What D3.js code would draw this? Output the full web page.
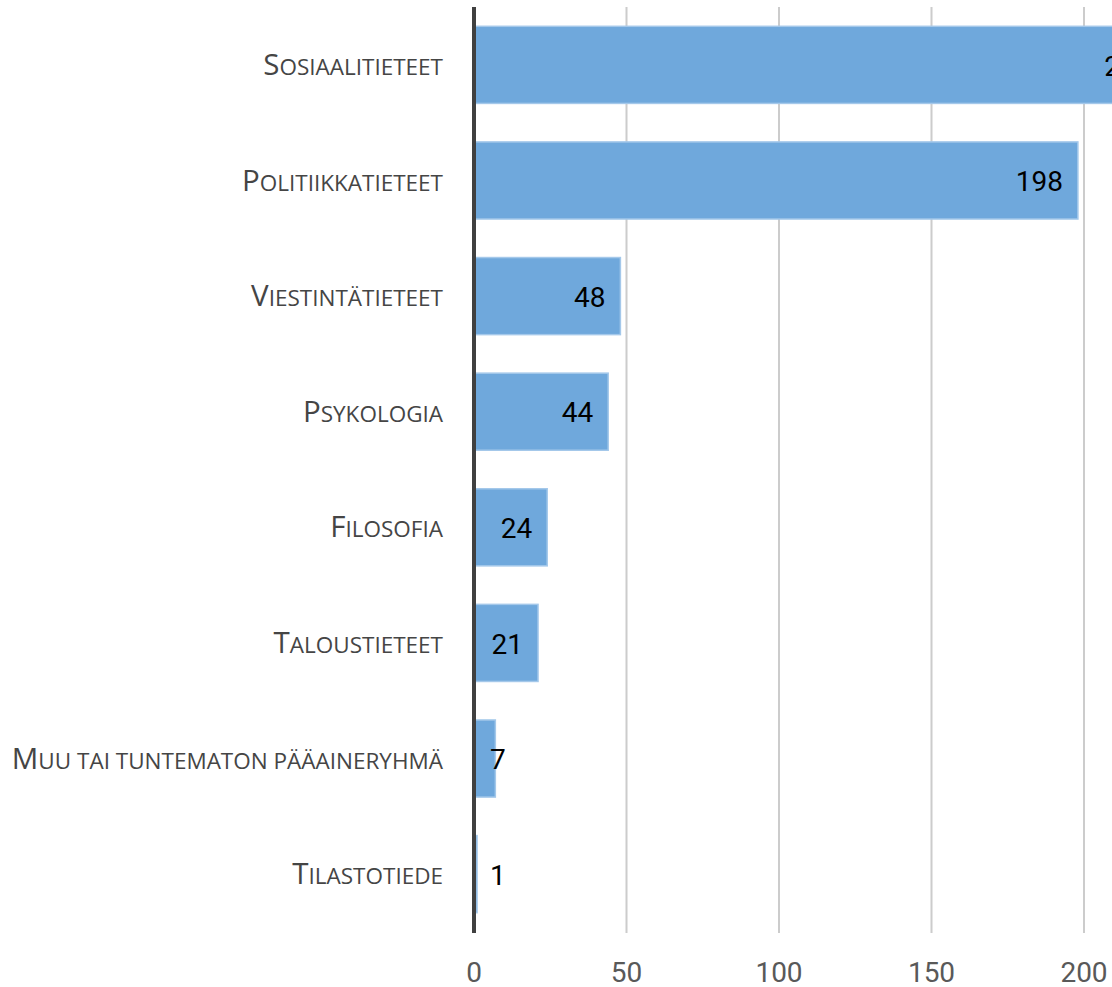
<!DOCTYPE html>
<html>
<head>
<meta charset="utf-8">
<script src="https://cdn.jsdelivr.net/npm/d3@7"></script>
<style>
  body { margin: 0; background: #fff; }
  svg { display: block; }
</style>
</head>
<body>
<svg id="chart" width="1112" height="987"></svg>
<script>
// data
var categories = ['Sosiaalitieteet', 'Politiikkatieteet', 'Viestintätieteet', 'Psykologia',
	'Filosofia', 'Taloustieteet', 'Muu tai tuntematon pääaineryhmä', 'Tilastotiede'];
var values = [227, 198, 48, 44, 24, 21, 7, 1];
var tickValues = [0, 50, 100, 150, 200];

var svg = d3.select('#chart');

var x = d3.scaleLinear().domain([0, 200]).range([474, 1084]);
var y = d3.scaleBand()
	.domain(categories)
	.range([7, 932])
	.paddingInner(0.333)
	.paddingOuter(0.167);

var rows = categories.map(function(c, i) { return { cat: c, val: values[i] }; });

// gridlines
svg.append('g')
	.selectAll('line')
	.data(tickValues.slice(1))
	.join('line')
	.attr('x1', function(d) { return x(d); })
	.attr('x2', function(d) { return x(d); })
	.attr('y1', 7)
	.attr('y2', 933)
	.attr('stroke', '#cccccc')
	.attr('stroke-width', 2);

// bars
svg.append('g')
	.selectAll('rect')
	.data(rows)
	.join('rect')
	.attr('x', x(0))
	.attr('y', function(d) { return y(d.cat); })
	.attr('width', function(d) { return x(d.val) - x(0); })
	.attr('height', y.bandwidth())
	.attr('fill', '#6fa8dc')
	.attr('stroke', '#a4c8ea')
	.attr('stroke-width', 1.5);

// value labels
svg.append('g')
	.selectAll('text')
	.data(rows)
	.join('text')
	.attr('y', function(d) { return y(d.cat) + y.bandwidth() / 2; })
	.attr('dy', '0.38em')
	.attr('text-anchor', 'end')
	.style('font-family', 'Roboto, sans-serif')
	.style('font-size', '28px')
	.attr('fill', '#000')
	.text(function(d) { return d.val; })
	.attr('x', function(d) {
		var w = this.getComputedTextLength();
		return Math.max(x(d.val) - 15, x(0) + 16 + w);
	});

// axis line
svg.append('line')
	.attr('x1', x(0)).attr('x2', x(0))
	.attr('y1', 7).attr('y2', 933)
	.attr('stroke', '#404040')
	.attr('stroke-width', 4);

// category labels in small caps
var labels = svg.append('g')
	.selectAll('text')
	.data(rows)
	.join('text')
	.attr('x', 443)
	.attr('y', function(d) { return y(d.cat) + y.bandwidth() / 2 + 4; })
	.attr('dy', '0.38em')
	.attr('text-anchor', 'end')
	.style('font-family', '"Open Sans", sans-serif')
	.attr('fill', '#454545');

labels.each(function(d) {
	var t = d3.select(this);
	t.append('tspan').style('font-size', '29.5px').text(d.cat.charAt(0).toUpperCase());
	t.append('tspan').style('font-size', '22.5px').text(d.cat.slice(1).toUpperCase());
});

// x axis tick labels
svg.append('g')
	.selectAll('text')
	.data(tickValues)
	.join('text')
	.attr('x', function(d) { return x(d); })
	.attr('y', 982)
	.attr('text-anchor', 'middle')
	.style('font-family', 'Roboto, sans-serif')
	.style('font-size', '28px')
	.attr('fill', '#595959')
	.text(function(d) { return d; });
</script>
</body>
</html>
